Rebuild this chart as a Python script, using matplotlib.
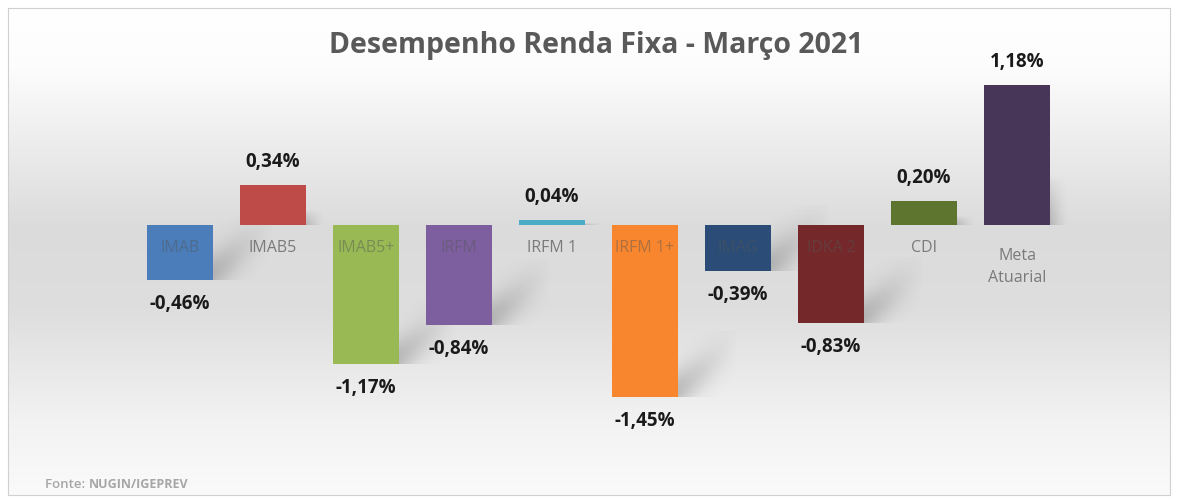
import numpy as np
import matplotlib.pyplot as plt

# dados do grafico (rentabilidade em %, marco/2021)
categorias = ["IMAB", "IMAB5", "IMAB5+", "IRFM", "IRFM 1", "IRFM 1+",
              "IMAG", "IDKA 2", "CDI", "Meta\nAtuarial"]
valores = [-0.46, 0.34, -1.17, -0.84, 0.04, -1.45, -0.39, -0.83, 0.20, 1.18]
rotulos = ["-0,46%", "0,34%", "-1,17%", "-0,84%", "0,04%", "-1,45%",
           "-0,39%", "-0,83%", "0,20%", "1,18%"]
cores = ["#4a7dba", "#be4b48", "#98b954", "#7d5fa0", "#4aacc5", "#f7862e",
         "#2a4c76", "#74282a", "#5e7530", "#473658"]

titulo = "Desempenho Renda Fixa - Março 2021"

plt.rcParams['font.family'] = ['Open Sans', 'DejaVu Sans']

fig = plt.figure(figsize=(11.78, 5.03), dpi=100)
fig.patch.set_facecolor('white')

# fundo em degrade (branco -> cinza -> branco)
bg = fig.add_axes([0.007, 0.016, 0.986, 0.968])
t = np.linspace(0, 1, 300)
grad = np.interp(t, [0.0, 0.12, 0.45, 0.62, 0.85, 1.0],
                 [1.0, 0.99, 0.86, 0.87, 0.95, 0.98])
bg.imshow(np.dstack([grad, grad, grad]).reshape(300, 1, 3),
          aspect='auto', extent=[0, 1, 0, 1])
bg.set_xticks([])
bg.set_yticks([])
for s in bg.spines.values():
    s.set_color('#d0d0d0')
    s.set_linewidth(0.8)

ax = fig.add_axes([0, 0, 1, 1])
ax.patch.set_alpha(0)
ax.axis('off')

x = np.arange(len(categorias))
passo = 93.0
escala = 118.6
xlim = (-180 / passo, (1178 - 180) / passo)
ylim = (-(503 - 225) / escala, 225 / escala)
largura = 0.71

# sombras suaves
uu, ww = np.meshgrid(np.linspace(0, 1, 80), np.linspace(0, 1, 80))
for xi, v in zip(x, valores):
    borda = xi + largura / 2
    img = np.zeros((80, 80, 4))
    img[..., :3] = 0.35
    if v >= 0:
        alfa = 0.30 * (1 - uu) ** 1.5 * np.clip(1 - ww, 0, 1) ** 0.7
        img[..., 3] = alfa
        ax.imshow(img, extent=[borda, borda + 0.2, 0, v * 0.35],
                  origin='lower', aspect='auto', zorder=1, interpolation='bilinear')
    else:
        centro = 0.1 + 0.7 * uu
        alfa = 0.32 * (1 - uu) ** 1.2 * np.exp(-((ww - centro) / 0.33) ** 2)
        img[..., 3] = alfa
        ax.imshow(img, extent=[borda, borda + 0.65, v, v + 0.55],
                  origin='lower', aspect='auto', zorder=1, interpolation='bilinear')

bars = ax.bar(x, valores, width=largura, color=cores, zorder=2, linewidth=0)
ax.set_xlim(*xlim)
ax.set_ylim(*ylim)

# rotulos de categoria (apagados quando ficam sobre a barra)
for xi, c, v in zip(x, categorias, valores):
    sobre = v < 0
    ax.text(xi, -0.19, c, ha='center', va='top' if '\n' in c else 'center',
            fontsize=11.5, color='#555555' if sobre else '#7a7a7a',
            alpha=0.45 if sobre else 1.0, linespacing=1.5, zorder=3)

# rotulos de valor
for b, v, r in zip(bars, valores, rotulos):
    yy = b.get_height() if v >= 0 else v
    ax.annotate(r, (b.get_x() + b.get_width() / 2, yy),
                xytext=(0, 23 if v >= 0 else -24), textcoords='offset pixels',
                ha='center', va='center', fontsize=13.5, fontweight='bold',
                color='#1a1a1a', zorder=4)

fig.text(596 / 1178, 1 - 45 / 503, titulo, ha='center', va='center',
         fontsize=20.5, fontweight='bold', color='#595959')
ft = fig.text(45 / 1178, 1 - 484 / 503, "Fonte: ", ha='left', va='center',
              fontsize=9.5, fontweight='semibold', color='#a6a6a6')
fig.canvas.draw()
bb = ft.get_window_extent()
fig.text(bb.x1 / 1178, 1 - 484 / 503, "NUGIN/IGEPREV", ha='left', va='center',
         fontsize=9, fontweight='bold', color='#a6a6a6')

fig.savefig('out.png', dpi=100, facecolor='white')
